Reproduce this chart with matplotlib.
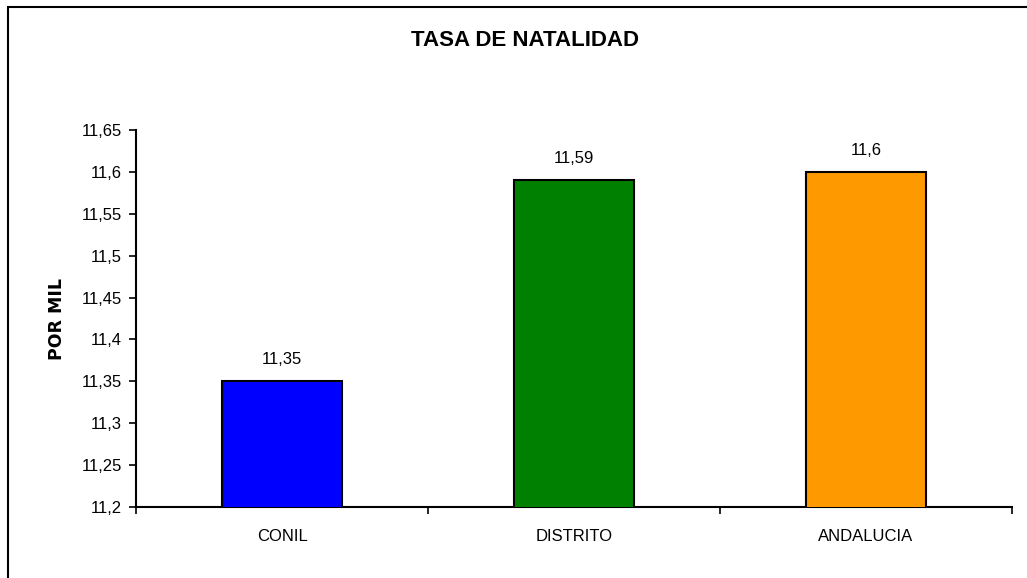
import matplotlib
matplotlib.use("Agg")
import matplotlib.pyplot as plt
from matplotlib.ticker import FuncFormatter, FixedLocator
from matplotlib.patches import Rectangle

categories = ["CONIL", "DISTRITO", "ANDALUCIA"]
values = [11.35, 11.59, 11.6]
colors = ["#0000FF", "#008000", "#FF9900"]
yticks = [11.2, 11.25, 11.3, 11.35, 11.4, 11.45, 11.5, 11.55, 11.6, 11.65]

plt.rcParams['font.family'] = ['Liberation Sans', 'DejaVu Sans']

W, H = 1027, 578
fig = plt.figure(figsize=(W/100, H/100), dpi=100)
fig.patch.set_facecolor("white")

# outer frame (extends past right/bottom edge)
fig.add_artist(Rectangle((8/W, -0.05), 1.2, 1 - 7/H + 0.05, transform=fig.transFigure,
                         fill=False, edgecolor="black", linewidth=1.5))

left, right, top, bottom = 136, 1012, 130, 507
ax = fig.add_axes([left/W, 1 - bottom/H, (right-left)/W, (bottom-top)/H])

x = list(range(len(categories)))
bars = ax.bar(x, values, width=0.41, color=colors, edgecolor="black", linewidth=1.5, zorder=3)

ax.set_xlim(-0.5, len(categories) - 0.5)
ax.set_ylim(11.2, 11.65)
ax.set_yticks(yticks)
ax.yaxis.set_major_formatter(FuncFormatter(lambda v, p: ("%g" % round(v, 2)).replace(".", ",")))
ax.tick_params(axis="y", direction="out", length=5, width=1.2, labelsize=12, pad=5)

ax.set_xticks(x)
ax.set_xticklabels(categories)
ax.tick_params(axis="x", which="major", length=0, labelsize=12, pad=16)
ax.xaxis.set_minor_locator(FixedLocator([i - 0.5 for i in range(len(categories) + 1)]))
ax.tick_params(axis="x", which="minor", direction="out", length=5, width=1.2)

for s in ["top", "right"]:
    ax.spines[s].set_visible(False)
for s in ["left", "bottom"]:
    ax.spines[s].set_linewidth(1.5)

for xi, v in zip(x, values):
    ax.annotate(("%g" % v).replace(".", ","), (xi, v), xytext=(0, 10), textcoords="offset points",
                ha="center", va="bottom", fontsize=12)

ax.set_ylabel("POR MIL", fontsize=12.5, fontweight="bold", labelpad=11, family=["DejaVu Sans"])
fig.text(525/W, 1 - 41/H, "TASA DE NATALIDAD", ha="center", va="center", fontsize=16, fontweight="bold")

fig.savefig("out.png", dpi=100)
